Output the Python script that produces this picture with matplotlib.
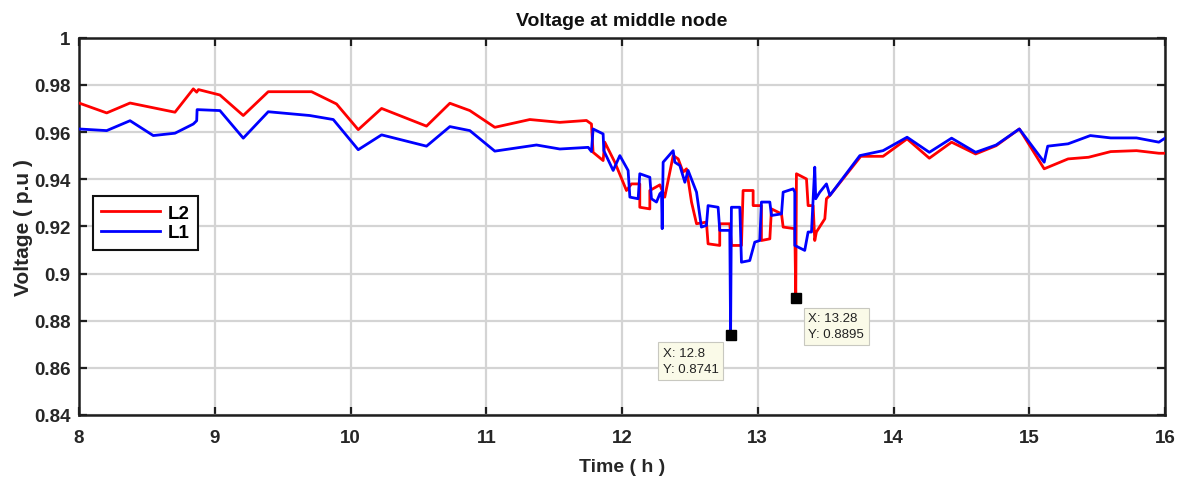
import matplotlib
matplotlib.use("Agg")
import matplotlib.pyplot as plt

plt.rcParams['font.family'] = ['Liberation Sans', 'DejaVu Sans']

# ---- data ----
time_L2 = [8.0, 8.204, 8.376, 8.707, 8.842, 8.867, 8.88, 9.038, 9.21, 9.394, 9.713, 9.897,
           10.057, 10.229, 10.56, 10.732, 10.879, 11.063, 11.321, 11.542, 11.738, 11.775,
           11.787, 11.861, 11.873, 11.947, 12.033, 12.070, 12.131, 12.131, 12.205, 12.205,
           12.279, 12.315, 12.377, 12.414, 12.450, 12.475, 12.512, 12.549, 12.622, 12.634,
           12.720, 12.720, 12.794, 12.806, 12.880, 12.892, 12.966, 12.966, 13.027, 13.027,
           13.089, 13.101, 13.175, 13.187, 13.273, 13.280, 13.285, 13.359, 13.371, 13.408,
           13.420, 13.432, 13.494, 13.506, 13.531, 13.759, 13.923, 14.10, 14.264, 14.428,
           14.605, 14.756, 14.927, 15.11, 15.286, 15.437, 15.60, 15.79, 15.955, 16.0]
volt_L2 = [0.9723, 0.9681, 0.9723, 0.9684, 0.9783, 0.9769, 0.978, 0.9757, 0.967, 0.9771, 0.9771, 0.9719,
           0.961, 0.970, 0.9625, 0.9722, 0.9691, 0.962, 0.9653, 0.9641, 0.9649, 0.9634,
           0.9514, 0.9479, 0.9557, 0.9472, 0.9352, 0.9380, 0.9380, 0.9281, 0.9274, 0.9352,
           0.9376, 0.9324, 0.9500, 0.9486, 0.9430, 0.9444, 0.9303, 0.9211, 0.9218, 0.9126,
           0.9119, 0.9211, 0.9211, 0.9119, 0.9119, 0.9352, 0.9352, 0.9288, 0.9288, 0.9140,
           0.9147, 0.9274, 0.9253, 0.9197, 0.9190, 0.8895, 0.9423, 0.9401, 0.9288, 0.9288,
           0.9140, 0.9176, 0.9232, 0.9317, 0.9331, 0.9497, 0.9497, 0.9571, 0.9489, 0.9557,
           0.9507, 0.9542, 0.9613, 0.9444, 0.9486, 0.9493, 0.9517, 0.9521, 0.951, 0.951]

time_L1 = [8.0, 8.204, 8.376, 8.547, 8.707, 8.842, 8.867, 8.87, 9.038, 9.21, 9.394, 9.70, 9.873,
           10.057, 10.229, 10.56, 10.732, 10.879, 11.063, 11.37, 11.542, 11.751, 11.775,
           11.787, 11.861, 11.866, 11.935, 11.984, 12.045, 12.058, 12.119, 12.131, 12.205,
           12.217, 12.254, 12.279, 12.291, 12.296, 12.303, 12.377, 12.389, 12.426, 12.463,
           12.487, 12.549, 12.585, 12.622, 12.634, 12.708, 12.720, 12.794, 12.800, 12.806,
           12.868, 12.880, 12.941, 12.978, 13.015, 13.027, 13.089, 13.101, 13.175, 13.187,
           13.261, 13.273, 13.273, 13.346, 13.371, 13.396, 13.408, 13.420, 13.427, 13.457,
           13.506, 13.531, 13.752, 13.923, 14.10, 14.264, 14.428, 14.605, 14.756, 14.927,
           15.11, 15.136, 15.286, 15.45, 15.60, 15.79, 15.955, 16.0]
volt_L1 = [0.9613, 0.9606, 0.9648, 0.9585, 0.9595, 0.9634, 0.9648, 0.9695, 0.9691, 0.9574, 0.9686, 0.967, 0.9653,
           0.9525, 0.9588, 0.954, 0.9623, 0.9606, 0.9519, 0.9545, 0.9528, 0.9535, 0.9517,
           0.9613, 0.9592, 0.9521, 0.9437, 0.9500, 0.9437, 0.9324, 0.9317, 0.9423, 0.9408,
           0.9317, 0.9303, 0.9338, 0.9345, 0.9190, 0.9472, 0.9521, 0.9472, 0.9458, 0.9387,
           0.9437, 0.9345, 0.9197, 0.9204, 0.9288, 0.9281, 0.9183, 0.9183, 0.8741, 0.9281,
           0.9281, 0.9048, 0.9055, 0.9133, 0.9140, 0.9303, 0.9303, 0.9246, 0.9253, 0.9345,
           0.9359, 0.9345, 0.9119, 0.9098, 0.9176, 0.9176, 0.9317, 0.9451, 0.9317, 0.9345,
           0.9380, 0.9331, 0.9500, 0.9521, 0.9578, 0.9514, 0.9574, 0.9514, 0.9545, 0.9613,
           0.9472, 0.954, 0.955, 0.9585, 0.9575, 0.9575, 0.9557, 0.9574]

xticks = [8, 9, 10, 11, 12, 13, 14, 15, 16]
yticks = [0.84, 0.86, 0.88, 0.9, 0.92, 0.94, 0.96, 0.98, 1.0]
ytick_labels = ['0.84', '0.86', '0.88', '0.9', '0.92', '0.94', '0.96', '0.98', '1']

tips = [(12.8, 0.8741), (13.28, 0.8895)]

# ---- figure ----
fig = plt.figure(figsize=(11.86, 4.81), dpi=100)
ax = fig.add_axes([79/1186, 1 - 416/481, (1165 - 79)/1186, (416 - 38.7)/481])

ax.plot(time_L2, volt_L2, color='#ff0000', lw=2.0, label='L2', zorder=3)
ax.plot(time_L1, volt_L1, color='#0000ff', lw=2.0, label='L1', zorder=3)

ax.set_xlim(8, 16)
ax.set_ylim(0.84, 1.0)
ax.set_xticks(xticks)
ax.set_xticklabels([str(t) for t in xticks])
ax.set_yticks(yticks)
ax.set_yticklabels(ytick_labels)

ax.grid(True, color='#d4d4d4', lw=1.6)
ax.set_axisbelow(True)

for s in ax.spines.values():
    s.set_linewidth(1.8)
    s.set_color('#1e1e1e')

ax.tick_params(direction='in', length=6, width=1.6, top=True, right=True,
               labelsize=13.5, labelcolor='#262626', color='#1e1e1e')
ax.tick_params(axis='x', pad=10)
ax.tick_params(axis='y', pad=6)
for lab in ax.get_xticklabels() + ax.get_yticklabels():
    lab.set_fontweight('bold')

ax.set_title('Voltage at middle node', fontsize=14, fontweight='bold', pad=9, color='#111111')
ax.set_xlabel('Time ( h )', fontsize=14, fontweight='bold', color='#262626', labelpad=9)
ax.set_ylabel('Voltage ( p.u )', fontsize=15, fontweight='bold', color='#262626', labelpad=1)

leg = ax.legend(loc='upper left', bbox_to_anchor=(0.0129, 0.58), fancybox=False,
                framealpha=1, edgecolor='#111111', fontsize=13.5, handlelength=3.1,
                handletextpad=0.45, borderpad=0.45, labelspacing=0.12, borderaxespad=0)
leg.get_frame().set_linewidth(1.5)
for t in leg.get_texts():
    t.set_fontweight('bold')

# data tips
offsets = [(-49, -9), (9, -10)]
for (tx, ty), (dx, dy) in zip(tips, offsets):
    ax.plot([tx], [ty], marker='s', ms=7, color='black', zorder=5)
    ax.annotate(f'X: {tx:g}\nY: {ty:.4f}', xy=(tx, ty), xytext=(dx, dy),
                textcoords='offset points', ha='left', va='top', fontsize=9.5,
                color='#222222', linespacing=1.45, zorder=6,
                bbox=dict(boxstyle='square,pad=0.35', fc='#fafae8', ec='#c8c8c0', lw=0.8))

fig.savefig('out.png', dpi=100)
